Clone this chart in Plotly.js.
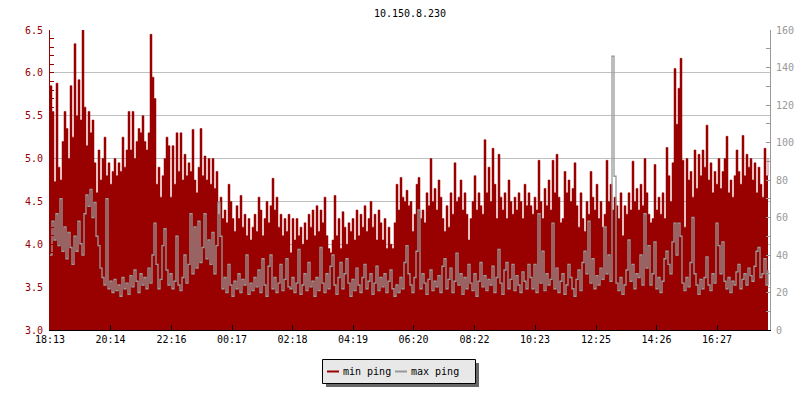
<!DOCTYPE html>
<html>
<head>
<meta charset="utf-8">
<script src="https://cdn.plot.ly/plotly-3.0.1.min.js"></script>
<style>html,body{margin:0;padding:0;background:#fff;}#chart{width:800px;height:400px;}</style>
</head>
<body>
<div id="chart"></div>
<script>
// ---- data (one sample every 4 minutes, starting 18:13) ----
const chartTitle = "10.150.8.230";
const startLabel = "18:13";
const sampleMinutes = 4;
const seriesNames = ["min ping", "max ping"];
const tickLabels = ["18:13","20:14","22:16","00:17","02:18","04:19","06:20","08:22","10:23","12:25","14:26","16:27"];

const minPing = [
5.85,5.55,4.73,5.88,4.9,4.75,5.2,5.55,5.35,5.0,5.85,5.25,6.34,5.5,5.92,5.45,6.5,5.6,5.15,5.55,5.3,5.45,4.95,4.6,5.1,4.75,5.0,5.25,4.8,4.95,4.7,4.85,5.0,4.8,4.95,4.85,5.25,4.9,5.1,5.55,5.1,5.55,5.0,5.2,5.35,5.3,5.5,5.2,5.1,5.3,6.45,5.95,5.7,4.7,4.9,4.55,4.8,5.0,5.25,5.15,
4.55,5.15,4.7,5.3,4.85,5.3,4.75,5.05,4.8,4.95,4.85,5.34,4.75,4.6,4.9,5.35,4.8,5.03,4.75,5.0,4.7,5.0,4.65,4.85,4.35,4.55,4.3,4.4,4.25,4.7,4.5,4.3,4.15,4.45,4.3,4.57,4.2,4.35,4.1,4.3,4.05,4.2,4.35,4.15,4.55,4.4,4.1,4.3,4.5,4.25,4.45,4.77,4.4,4.55,4.2,4.35,4.1,4.3,4.15,4.35,
3.9,4.3,4.05,4.3,4.1,4.2,4.0,4.25,4.05,4.35,4.2,4.4,4.1,4.45,4.15,4.4,4.25,4.55,4.1,3.95,3.9,4.05,4.57,4.1,4.3,3.95,4.38,4.2,4.0,4.25,4.15,4.3,4.05,4.4,4.1,4.35,4.2,4.45,4.15,4.3,4.5,4.2,4.35,4.05,4.4,4.25,4.05,4.3,3.95,4.2,4.0,3.95,4.25,4.7,4.4,4.78,4.55,4.5,4.63,4.45,
4.5,4.15,4.35,4.7,4.78,4.3,4.4,4.25,4.6,4.45,5.0,4.5,4.65,4.4,4.75,4.55,4.3,4.15,4.45,4.2,4.6,4.35,4.95,4.5,4.55,4.75,4.4,4.6,4.35,4.05,4.3,4.5,4.8,4.4,4.6,4.45,4.35,5.22,4.6,4.9,4.5,5.12,4.7,4.3,5.05,4.55,4.4,4.6,4.3,4.75,4.5,4.35,4.55,4.4,4.6,4.5,4.3,4.7,4.45,4.6,
4.45,4.35,4.55,4.4,4.98,4.5,4.3,4.65,4.45,4.75,4.4,4.98,4.6,5.05,4.55,4.25,4.3,4.85,4.6,4.75,4.5,4.65,4.95,4.45,4.2,4.6,4.3,4.15,4.5,4.35,4.85,4.55,4.4,4.7,4.3,4.5,4.2,4.35,4.98,4.5,4.7,4.4,4.55,4.45,4.3,4.6,4.1,4.45,4.35,4.6,4.4,4.97,4.5,4.65,4.4,4.7,4.45,5.0,4.6,4.35,
4.25,4.3,4.93,4.4,4.55,4.35,4.6,4.3,5.13,4.8,4.5,4.95,6.05,5.4,5.82,6.17,4.98,4.2,5.0,4.75,4.85,4.55,5.1,4.65,5.05,4.8,5.1,4.9,5.39,4.75,4.95,4.6,4.85,4.7,5.0,4.65,4.85,5.0,5.26,4.6,4.75,4.55,4.8,5.1,4.85,4.7,5.27,4.8,5.05,4.9,5.0,4.75,4.95,4.6,4.9,4.7,4.55,5.12,4.8,5.0
];

const maxPing = [
40,58,48,62,45,70,42,55,38,52,44,35,50,42,58,46,40,62,72,66,75,60,68,50,45,33,28,24,70,22,26,20,27,21,24,18,28,22,25,19,29,23,32,26,20,30,24,28,22,33,25,40,57,35,22,27,45,54,32,24,
30,22,26,50,24,21,28,40,25,35,62,30,55,33,58,36,44,62,38,48,35,52,30,45,68,50,22,28,20,35,24,18,26,22,30,20,27,24,40,19,25,21,28,23,32,20,38,24,18,34,40,22,28,20,25,35,21,27,38,23,
22,28,20,25,43,19,24,30,21,36,23,26,18,28,21,44,25,20,30,22,34,40,24,19,28,36,22,30,38,25,18,27,21,33,24,20,28,35,22,26,30,19,25,34,21,28,23,30,20,26,32,22,18,24,20,28,22,36,45,30,
24,20,28,42,64,22,30,25,19,27,32,21,26,23,29,20,34,38,22,27,33,20,26,41,24,30,19,28,22,35,25,21,30,18,26,36,23,29,21,27,24,34,20,28,43,25,19,32,36,22,27,35,21,29,24,20,31,26,22,35,
28,22,35,20,62,25,42,21,30,24,27,57,22,33,20,26,30,19,24,35,28,22,18,27,32,21,36,42,30,58,25,38,22,29,24,33,27,55,30,40,26,146,82,25,21,28,19,24,32,48,26,35,22,30,28,40,24,62,33,45,
24,30,47,22,28,20,26,38,42,35,30,47,57,40,57,50,25,21,28,23,36,60,30,24,19,27,22,28,39,24,21,30,25,57,45,30,47,26,22,28,20,26,24,31,35,22,27,30,24,33,29,26,34,42,44,28,30,38,24,32
];

// ---- derived ----
function toMin(s){const p=s.split(":");return (+p[0])*60+(+p[1]);}
const start = toMin(startLabel);
const xMin = minPing.map((_, i) => i * sampleMinutes);
const xMax = maxPing.map((_, i) => i * sampleMinutes);
const tickVals = tickLabels.map(l => ((toMin(l) - start) + 1440) % 1440);

const RED = "#990000", GRAY = "#999999";
const FONT = "DejaVu Sans Mono, monospace";

const traces = [
  {x: xMin, y: minPing, type: "scatter", mode: "lines", name: seriesNames[0],
   line: {shape: "hv", color: RED, width: 0.5}, fill: "tozeroy", fillcolor: RED,
   yaxis: "y", hoverinfo: "skip"},
  {x: xMax, y: maxPing, type: "scatter", mode: "lines", name: seriesNames[1],
   line: {shape: "hv", color: GRAY, width: 1.3},
   yaxis: "y2", hoverinfo: "skip"}
];

// legend drawn as shapes + annotations (pixel -> paper helpers)
const L = 50, T = 30, W = 720, H = 300;
const px = X => (X - L) / W, py = Y => (T + H - Y) / H;

const layout = {
  width: 800, height: 400,
  margin: {l: 50, r: 30, t: 30, b: 70, pad: 0},
  paper_bgcolor: "#ffffff", plot_bgcolor: "#ffffff",
  showlegend: false,
  font: {family: FONT, size: 10, color: "#000"},
  title: {text: chartTitle, font: {family: FONT, size: 10, color: "#000"},
          xref: "paper", x: 0.5, xanchor: "center", yref: "container", y: 1 - 13/400, yanchor: "middle"},
  xaxis: {range: [0, 1440], tickmode: "array", tickvals: tickVals, ticktext: tickLabels,
          ticks: "inside", ticklen: 5, tickcolor: "#000", tickwidth: 1,
          showline: true, linecolor: "#000", linewidth: 1, showgrid: false, zeroline: false,
          tickfont: {family: FONT, size: 10, color: "#000"}, fixedrange: true},
  yaxis: {range: [3, 6.5], tick0: 3, dtick: 0.5, tickformat: ".1f",
          ticks: "inside", ticklen: 4, tickcolor: RED, tickwidth: 1,
          showline: true, linecolor: RED, linewidth: 1, ticklabelstandoff: 4,
          showgrid: true, gridcolor: "#c0c0c0", gridwidth: 1, zeroline: false,
          minor: {dtick: 0.1, ticks: "inside", ticklen: 4, tickcolor: RED, showgrid: false},
          tickfont: {family: FONT, size: 10, color: RED}},
  yaxis2: {overlaying: "y", side: "right", range: [0, 160], tick0: 0, dtick: 20,
          ticks: "inside", ticklen: 4, tickcolor: GRAY, tickwidth: 1,
          showline: true, linecolor: GRAY, linewidth: 1, showgrid: false, zeroline: false,
          ticklabelstandoff: 3,
          minor: {dtick: 10, ticks: "inside", ticklen: 4, tickcolor: GRAY, showgrid: false},
          tickfont: {family: FONT, size: 10, color: GRAY}},
  shapes: [
    {type: "rect", xref: "paper", yref: "paper", x0: px(326), x1: px(479), y0: py(363), y1: py(387),
     fillcolor: "#666666", line: {width: 0}},
    {type: "rect", xref: "paper", yref: "paper", x0: px(322.5), x1: px(475.5), y0: py(359.5), y1: py(383.5),
     fillcolor: "#e8e8e8", line: {color: "#000", width: 1}},
    {type: "line", xref: "paper", yref: "paper", x0: px(327), x1: px(339), y0: py(371.5), y1: py(371.5),
     line: {color: RED, width: 2}},
    {type: "line", xref: "paper", yref: "paper", x0: px(395), x1: px(407), y0: py(371.5), y1: py(371.5),
     line: {color: GRAY, width: 2}}
  ],
  annotations: [
    {xref: "paper", yref: "paper", x: px(341), y: py(371), xanchor: "left", yanchor: "middle",
     text: seriesNames[0], showarrow: false, font: {family: FONT, size: 10, color: "#000"}},
    {xref: "paper", yref: "paper", x: px(409), y: py(371), xanchor: "left", yanchor: "middle",
     text: seriesNames[1], showarrow: false, font: {family: FONT, size: 10, color: "#000"}}
  ]
};

Plotly.newPlot("chart", traces, layout, {staticPlot: true, displayModeBar: false});
</script>
</body>
</html>
